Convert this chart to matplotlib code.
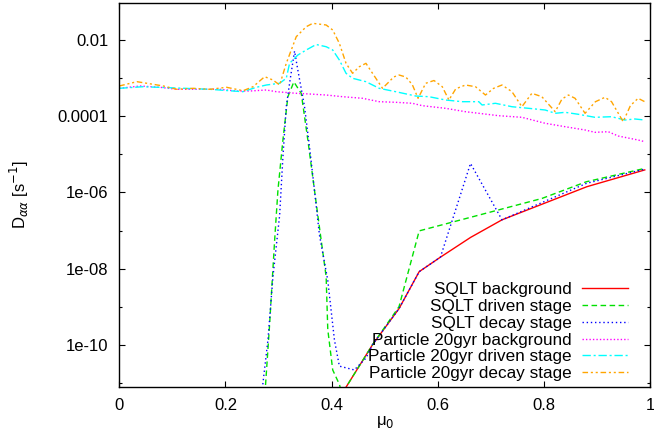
import matplotlib
matplotlib.use("Agg")
import matplotlib.pyplot as plt
import numpy as np

plt.rcParams["font.family"] = ["Liberation Sans", "DejaVu Sans"]
plt.rcParams["mathtext.fontset"] = "dejavusans"

# values, y stored as log10(D)
sqlt_bg_mu = [0.40, 0.43, 0.477, 0.527, 0.565, 0.605, 0.662, 0.721, 0.881, 0.99]
sqlt_bg_log = [-11.7, -11.05, -10.0, -9.05, -8.08, -7.70, -7.18, -6.72, -5.85, -5.41]

sqlt_drv_mu = [0.270, 0.2758, 0.2833, 0.2927, 0.2989, 0.3083, 0.3176, 0.3289, 0.3428, 0.3552,
               0.3677, 0.3803, 0.3897, 0.3928, 0.4021, 0.415, 0.422, 0.43, 0.477, 0.527,
               0.565, 0.796, 0.88, 0.99]
sqlt_drv_log = [-12.0, -11.0, -9.44, -7.25, -5.94, -4.62, -3.49, -3.10, -3.40, -4.62,
                -5.94, -7.25, -8.21, -9.6, -10.66, -11.05, -11.5, -11.05, -10.0, -9.0,
                -7.01, -6.16, -5.72, -5.37]

sqlt_dec_mu = [0.265, 0.2707, 0.2801, 0.2895, 0.3021, 0.3083, 0.3146, 0.3208, 0.3302, 0.3364,
               0.349, 0.3583, 0.3677, 0.3771, 0.3927, 0.4053, 0.4146, 0.4428, 0.4647, 0.477,
               0.527, 0.565, 0.605, 0.6617, 0.721, 0.8806, 0.99]
sqlt_dec_log = [-11.8, -11.0, -9.87, -8.21, -6.6, -5.06, -3.75, -3.14, -2.29, -2.79,
                -3.75, -4.80, -5.94, -7.12, -8.30, -9.87, -10.56, -10.66, -10.35, -10.0,
                -9.05, -8.08, -7.70, -5.24, -6.72, -5.76, -5.39]

part_bg_mu = [0.0, 0.0394, 0.0769, 0.1083, 0.1458, 0.1895, 0.2208, 0.2458, 0.2771, 0.2959,
              0.3334, 0.3583, 0.3897, 0.4208, 0.4583, 0.4897, 0.521, 0.5522, 0.5709, 0.6148,
              0.6523, 0.6773, 0.7148, 0.7585, 0.8024, 0.84, 0.8775, 0.8962, 0.9212, 0.94,
              0.9775, 0.99]
part_bg_log = [-3.268, -3.207, -3.241, -3.294, -3.294, -3.294, -3.339, -3.339, -3.312, -3.357,
               -3.399, -3.417, -3.444, -3.488, -3.530, -3.619, -3.635, -3.661, -3.724, -3.793,
               -3.882, -3.924, -3.987, -4.029, -4.186, -4.276, -4.362, -4.423, -4.407, -4.520,
               -4.625, -4.669]

part_drv_mu = [0.0, 0.045, 0.108, 0.171, 0.2326, 0.2583, 0.2771, 0.3021, 0.3146, 0.3208,
               0.3364, 0.3522, 0.3709, 0.3897, 0.4021, 0.4146, 0.4272, 0.4396, 0.4647, 0.4897,
               0.521, 0.5585, 0.5835, 0.6148, 0.646, 0.6773, 0.6835, 0.7086, 0.7398, 0.7711,
               0.8024, 0.8212, 0.84, 0.8649, 0.8962, 0.9274, 0.9525, 0.9713, 0.99]
part_drv_log = [-3.268, -3.226, -3.26, -3.294, -3.357, -3.241, -3.181, -3.136, -3.005, -2.612,
                -2.394, -2.262, -2.118, -2.176, -2.262, -2.525, -2.874, -3.005, -3.094, -3.268,
                -3.357, -3.470, -3.488, -3.575, -3.619, -3.619, -3.706, -3.661, -3.751, -3.793,
                -3.837, -3.924, -3.898, -3.950, -4.029, -4.013, -4.100, -4.073, -4.100]

part_dec_mu = [0.0, 0.0332, 0.052, 0.0831, 0.1083, 0.1394, 0.1707, 0.2021, 0.2332, 0.252,
               0.2739, 0.2895, 0.3021, 0.3146, 0.3334, 0.3522, 0.3645, 0.3897, 0.4021, 0.4146,
               0.4272, 0.4396, 0.4522, 0.4647, 0.4771, 0.4959, 0.5084, 0.517, 0.5272, 0.5398,
               0.552, 0.5629, 0.5773, 0.5929, 0.6085, 0.621, 0.634, 0.6523, 0.6711, 0.6899,
               0.705, 0.721, 0.7398, 0.7585, 0.7773, 0.7961, 0.8212, 0.834, 0.8462, 0.8587,
               0.8775, 0.897, 0.915, 0.9274, 0.9493, 0.963, 0.9775, 0.99]
part_dec_log = [-3.207, -3.094, -3.136, -3.207, -3.294, -3.268, -3.294, -3.241, -3.331, -3.226,
                -2.963, -3.050, -3.181, -2.612, -1.913, -1.651, -1.562, -1.606, -1.738, -2.087,
                -2.612, -2.874, -2.701, -2.612, -2.874, -3.268, -3.094, -2.97, -2.919, -2.971,
                -3.17, -3.530, -3.136, -3.063, -3.226, -3.575, -3.28, -3.181, -3.226, -3.444,
                -3.27, -3.181, -3.357, -3.751, -3.399, -3.488, -3.882, -3.55, -3.444, -3.530,
                -3.924, -3.62, -3.504, -3.619, -4.144, -3.72, -3.530, -3.62]

series = [
    (sqlt_bg_mu, sqlt_bg_log, "SQLT background", "#ff0000", "-"),
    (sqlt_drv_mu, sqlt_drv_log, "SQLT driven stage", "#00e000", (0, (4, 2.5))),
    (sqlt_dec_mu, sqlt_dec_log, "SQLT decay stage", "#0000ff", (0, (1, 2))),
    (part_bg_mu, part_bg_log, "Particle 20gyr background", "#ff00ff", (0, (1, 1.5))),
    (part_drv_mu, part_drv_log, "Particle 20gyr driven stage", "#00ffff", (0, (6, 2, 1.5, 2))),
    (part_dec_mu, part_dec_log, "Particle 20gyr decay stage", "#ffa500", (0, (4, 2, 1.5, 2, 1.5, 2))),
]

fig = plt.figure(figsize=(6.54, 4.45), dpi=100)
ax = fig.add_axes([0.1824, 0.131, 0.8116, 0.863])

for mu, logd, name, col, ls in series:
    ax.plot(mu, 10.0 ** np.array(logd), color=col, linestyle=ls, lw=1.0, label=name)

ax.set_yscale("log")
ax.set_xlim(0, 1)
ax.set_ylim(10 ** -11.1, 10 ** -1.02)

ax.set_xticks([0, 0.2, 0.4, 0.6, 0.8, 1])
ax.set_xticklabels(["0", "0.2", "0.4", "0.6", "0.8", "1"])
ax.set_yticks([1e-10, 1e-8, 1e-6, 1e-4, 1e-2])
ax.set_yticklabels(["1e-10", "1e-08", "1e-06", "0.0001", "0.01"])
ax.set_yticks([1e-11, 1e-9, 1e-7, 1e-5, 1e-3], minor=True)
ax.yaxis.set_minor_formatter(matplotlib.ticker.NullFormatter())

ax.tick_params(which="both", direction="in", top=True, right=True, labelsize=12, width=0.8)
ax.tick_params(which="major", length=4.5, pad=8)
ax.tick_params(which="minor", length=2.5)
for s in ax.spines.values():
    s.set_linewidth(1.0)

ax.set_xlabel("μ$_0$", fontsize=12, labelpad=1)
ax.set_ylabel(r"D$_{\alpha\alpha}$ [s$^{-1}$]", fontsize=12, labelpad=19)

leg = ax.legend(loc="lower right", bbox_to_anchor=(628 / 654, 1 - 381 / 445),
                bbox_transform=fig.transFigure, frameon=False, markerfirst=False,
                alignment="right", fontsize=12.3, handlelength=2.7, handletextpad=0.6,
                labelspacing=0.1, borderpad=0, borderaxespad=0)
for t in leg.get_texts():
    t.set_ha("right")

fig.savefig("out.png", dpi=100)
